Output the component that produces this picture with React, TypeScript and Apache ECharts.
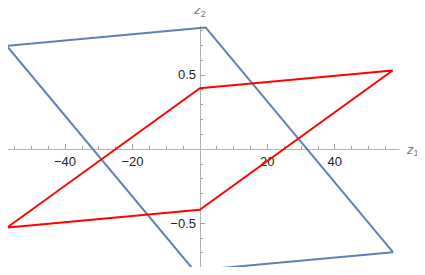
import React, { useEffect, useRef } from "react";
import * as echarts from "echarts";

const blueCurve: [number, number][] = [
  [-57.3, 0.696],
  [1.7, 0.82],
  [57.3, -0.696],
  [-1.7, -0.82],
  [-57.3, 0.696],
];
const redCurve: [number, number][] = [
  [-57.2, -0.53],
  [0, 0.41],
  [57.2, 0.53],
  [0, -0.41],
  [-57.2, -0.53],
];
const xMajorTicks = [-40, -20, 20, 40];
const xMinorTicks = [-55, -50, -45, -35, -30, -25, -15, -10, -5, 5, 10, 15, 25, 30, 35, 45, 50, 55];
const yMajorTicks = [-0.5, 0.5];
const yMinorTicks = [-0.8, -0.7, -0.6, -0.4, -0.3, -0.2, -0.1, 0.1, 0.2, 0.3, 0.4, 0.6, 0.7, 0.8];
const xRange = [-59.3, 59.1];
const yRange = [-0.83, 0.83];

const fmt = (v: number) => String(v).replace("-", "\u2212");
const axisGray = "#b3b3b3";
const tickGray = "#a0a0a0";
const font = "Liberation Sans";

const GRID = { left: 0, top: 26, width: 399, height: 246 };
const X_OFFSET = -123; // x axis drawn at y = 0
const Y_OFFSET = -200; // y axis drawn at x = 0

export default function App() {
  const ref = useRef<HTMLDivElement>(null);
  useEffect(() => {
    if (!ref.current) return;
    const chart = echarts.init(ref.current, null, { renderer: "svg" });
    const nameRich = {
      z: { fontFamily: font, fontSize: 13, fontStyle: "italic", color: "#777" },
      s: { fontFamily: font, fontSize: 9, color: "#777", verticalAlign: "bottom", padding: [8, 0, 0, 0] },
    };
    chart.setOption({
      animation: false,
      grid: { ...GRID, containLabel: false, outerBoundsMode: "none" },
      xAxis: [
        {
          type: "value",
          min: xRange[0],
          max: xRange[1],
          position: "bottom",
          offset: X_OFFSET,
          name: "{z|z}{s|1}",
          nameLocation: "end",
          nameGap: 8,
          nameTextStyle: { rich: nameRich, verticalAlign: "middle" },
          axisLine: { show: true, onZero: false, lineStyle: { color: axisGray, width: 1 } },
          axisTick: { show: true, inside: true, length: 5, customValues: xMajorTicks, lineStyle: { color: tickGray } },
          axisLabel: {
            show: true,
            customValues: xMajorTicks,
            formatter: fmt,
            margin: 6,
            fontFamily: font,
            fontSize: 13,
            color: "#222",
          },
          splitLine: { show: false },
        },
        {
          type: "value",
          min: xRange[0],
          max: xRange[1],
          position: "bottom",
          offset: X_OFFSET,
          axisLine: { show: false, onZero: false },
          axisTick: { show: true, inside: true, length: 3, customValues: xMinorTicks, lineStyle: { color: tickGray } },
          axisLabel: { show: false },
          splitLine: { show: false },
        },
      ],
      yAxis: [
        {
          type: "value",
          min: yRange[0],
          max: yRange[1],
          position: "left",
          offset: Y_OFFSET,
          name: "{z|z}{s|2}",
          nameLocation: "end",
          nameGap: 8,
          nameTextStyle: { rich: nameRich, align: "center" },
          axisLine: { show: true, onZero: false, lineStyle: { color: axisGray, width: 1 } },
          axisTick: { show: true, inside: true, length: 5, customValues: yMajorTicks, lineStyle: { color: tickGray } },
          axisLabel: {
            show: true,
            customValues: yMajorTicks,
            formatter: fmt,
            margin: 4,
            fontFamily: font,
            fontSize: 13,
            color: "#222",
          },
          splitLine: { show: false },
        },
        {
          type: "value",
          min: yRange[0],
          max: yRange[1],
          position: "left",
          offset: Y_OFFSET,
          axisLine: { show: false, onZero: false },
          axisTick: { show: true, inside: true, length: 3, customValues: yMinorTicks, lineStyle: { color: tickGray } },
          axisLabel: { show: false },
          splitLine: { show: false },
        },
      ],
      series: [
        {
          type: "line",
          data: blueCurve,
          xAxisIndex: 0,
          yAxisIndex: 0,
          showSymbol: false,
          lineStyle: { color: "#5E81B5", width: 2 },
          itemStyle: { color: "#5E81B5" },
          z: 2,
        },
        {
          type: "line",
          data: redCurve,
          xAxisIndex: 0,
          yAxisIndex: 0,
          showSymbol: false,
          lineStyle: { color: "#FF0000", width: 2 },
          itemStyle: { color: "#FF0000" },
          z: 3,
        },
      ],
    });
    return () => chart.dispose();
  }, []);
  return <div ref={ref} style={{ width: 425, height: 275, margin: -8 }} />;
}
